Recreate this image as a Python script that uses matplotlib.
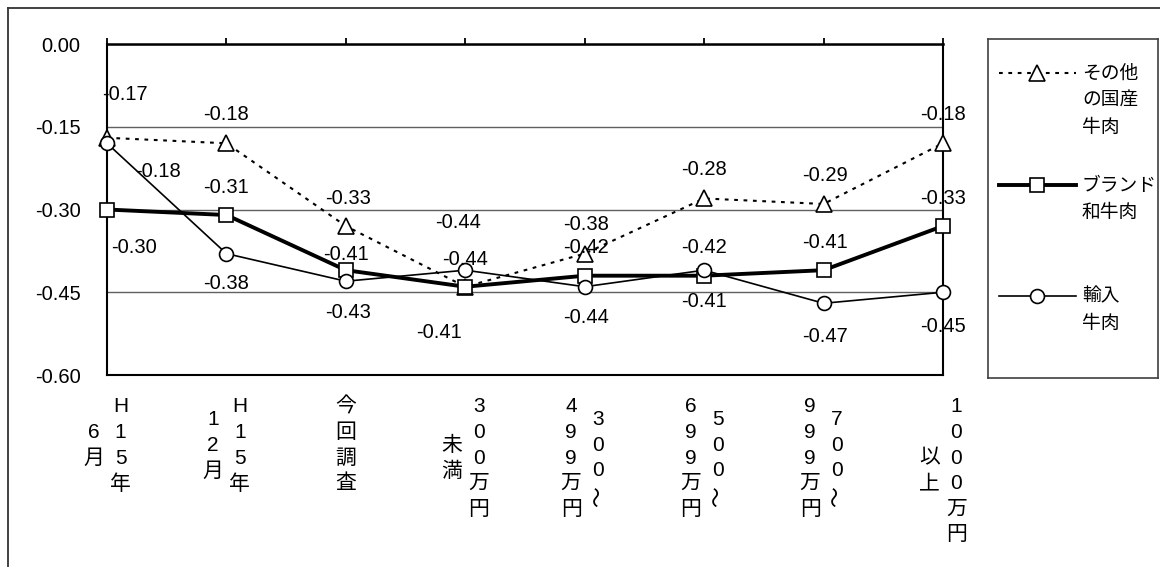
import matplotlib.pyplot as plt
from matplotlib.lines import Line2D

plt.rcParams['font.family'] = ['Liberation Sans', 'Noto Sans CJK JP']

# Data
categories = ["H15年\n6月", "H15年\n12月", "今回調査", "300万円\n未満",
              "300～\n499万円", "500～\n699万円", "700～\n999万円", "1000万円\n以上"]
series_names = ["その他\nの国産\n牛肉", "ブランド\n和牛肉", "輸入\n牛肉"]
other_beef = [-0.17, -0.18, -0.33, -0.44, -0.38, -0.28, -0.29, -0.18]
brand_wagyu = [-0.30, -0.31, -0.41, -0.44, -0.42, -0.42, -0.41, -0.33]
imported_beef = [-0.18, -0.38, -0.43, -0.41, -0.44, -0.41, -0.47, -0.45]
yticks = [0.00, -0.15, -0.30, -0.45, -0.60]

# label offsets in pixels (dx, dy up) from each marker
other_off = [(18, 43), (0, 29), (2, 28), (-7, 64), (1, 29), (0, 29), (1, 28), (0, 29)]
brand_off = [(27, -38), (0, 28), (0, 16), (0, 27), (1, 28), (0, 28), (1, 28), (0, 28)]
imported_off = [(51, -28), (0, -30), (2, -31), (-26, -62), (1, -31), (0, -31), (1, -33), (0, -34)]

styles = [
    dict(ls=(0, (1.8, 2.7)), lw=1.5, marker='^', ms=11),
    dict(ls='-', lw=2.8, marker='s', ms=9.5),
    dict(ls='-', lw=1.2, marker='o', ms=10),
]

W, H = 1160, 567
PX = 72 / 100  # pixels -> points
NUM_FS = 14.5
CJK_FS = 15

fig = plt.figure(figsize=(W / 100, H / 100), dpi=100)
ax = fig.add_axes([107 / W, 1 - 375 / H, (943 - 107) / W, (375 - 44) / H])

x = list(range(len(categories)))
all_series = [other_beef, brand_wagyu, imported_beef]
all_offsets = [other_off, brand_off, imported_off]
for vals, st in zip(all_series, styles):
    ax.plot(x, vals, color='black', linestyle=st['ls'], linewidth=st['lw'],
            marker=st['marker'], markersize=st['ms'], markerfacecolor='white',
            markeredgecolor='black', markeredgewidth=1.2, clip_on=False, zorder=3)

for vals, offs in zip(all_series, all_offsets):
    for i, (v, (dx, dy)) in enumerate(zip(vals, offs)):
        ax.annotate(f"{v:.2f}", xy=(i, v), xytext=(dx * PX, dy * PX),
                    textcoords='offset points', ha='center', va='center',
                    fontsize=NUM_FS, annotation_clip=False, zorder=5)

ax.set_xlim(0, len(categories) - 1)
ax.set_ylim(-0.60, 0.0)
ax.set_yticks(yticks)
ax.set_yticklabels([f"{t:.2f}" for t in yticks], fontsize=NUM_FS)
for lbl in ax.get_yticklabels():
    lbl.set_va('center_baseline')
ax.tick_params(axis='y', length=0, pad=19)
ax.xaxis.tick_top()
ax.set_xticks(x)
ax.tick_params(axis='x', direction='out', length=4.5, width=1.3, labeltop=False)
ax.yaxis.grid(True, color='#606060', linewidth=1.0)
ax.set_axisbelow(True)
for side in ['left', 'bottom', 'right']:
    ax.spines[side].set_linewidth(1.5)
ax.spines['top'].set_linewidth(1.8)

# vertical (stacked) category labels, first column on the right
PITCH, TOP, COLW = 25.6, 32, 27
for i, lab in enumerate(categories):
    cols = lab.split("\n")
    n_max = max(len(c) for c in cols)
    center = TOP + (n_max - 1) * PITCH / 2
    for j, col in enumerate(cols):
        dx = ((len(cols) - 1) / 2 - j) * COLW
        for k, ch in enumerate(col):
            dy = center + (k - (len(col) - 1) / 2) * PITCH
            ax.annotate(ch, xy=(i, 0), xycoords=ax.get_xaxis_transform(),
                        xytext=(dx * PX, -dy * PX), textcoords='offset points',
                        ha='center', va='center', fontsize=CJK_FS,
                        rotation=90 if ch == '～' else 0, annotation_clip=False)

# legend box
lax = fig.add_axes([988 / W, 1 - 378 / H, 170 / W, 339 / H])
lax.set_xlim(0, 170)
lax.set_ylim(339, 0)
lax.set_xticks([])
lax.set_yticks([])
for sp in lax.spines.values():
    sp.set_color('#404040')
    sp.set_linewidth(1.2)
row_y = [34, 146, 257]
for name, st, ry in zip(series_names, styles, row_y):
    lax.plot([11, 88], [ry, ry], color='black', linestyle=st['ls'], linewidth=st['lw'])
    lax.plot([49], [ry], color='black', marker=st['marker'], markersize=st['ms'],
             markerfacecolor='white', markeredgecolor='black', markeredgewidth=1.2)
    for k, line in enumerate(name.split("\n")):
        lax.text(94, ry + 1 + k * 27, line, ha='left', va='center', fontsize=13.5)

# outer chart border
fig.add_artist(Line2D([8 / W, 1], [1 - 8 / H, 1 - 8 / H], transform=fig.transFigure,
                      color='#333333', linewidth=1.3))
fig.add_artist(Line2D([8 / W, 8 / W], [0, 1 - 8 / H], transform=fig.transFigure,
                      color='#333333', linewidth=1.3))

fig.savefig('out.png', dpi=100)
